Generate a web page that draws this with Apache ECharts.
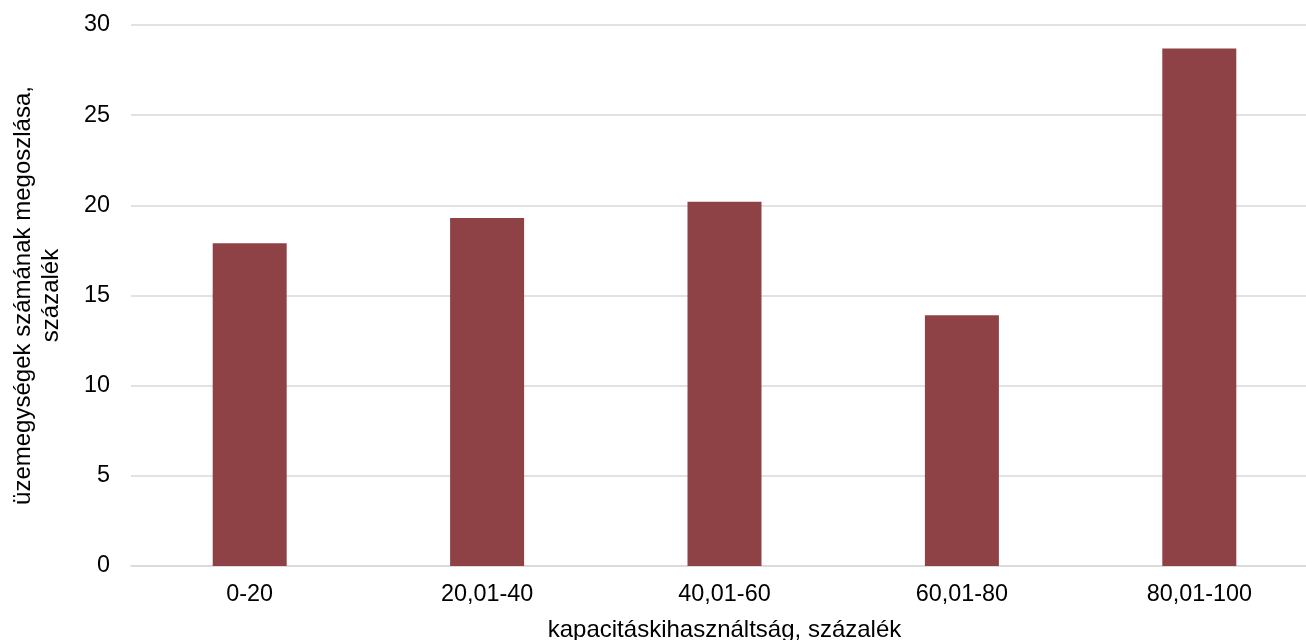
<!DOCTYPE html>
<html>
<head>
<meta charset="utf-8">
<script src="https://cdn.jsdelivr.net/npm/echarts@6/dist/echarts.min.js"></script>
<style>html,body{margin:0;padding:0;background:#fff}#c{width:1306px;height:640px}</style>
</head>
<body>
<div id="c"></div>
<script>
const categories = ['0-20', '20,01-40', '40,01-60', '60,01-80', '80,01-100'];
const values = [17.9, 19.3, 20.2, 13.9, 28.7];
const yTicks = { min: 0, max: 30, interval: 5 };

const chart = echarts.init(document.getElementById('c'), null, { renderer: 'canvas' });
const font = 'Liberation Sans, Arial, sans-serif';
chart.setOption({
  animation: false,
  backgroundColor: '#ffffff',
  grid: { left: 131, top: 25, width: 1187, bottom: 74, containLabel: false, outerBoundsMode: 'none' },
  xAxis: {
    type: 'category',
    data: categories,
    name: 'kapacitáskihasználtság, százalék',
    nameLocation: 'middle',
    nameGap: 52,
    nameTextStyle: { fontFamily: font, fontSize: 24, color: '#000' },
    axisLine: { lineStyle: { color: '#d9d9d9', width: 1.5 } },
    axisTick: { show: false },
    axisLabel: { fontFamily: font, fontSize: 23.4, color: '#000', margin: 17 }
  },
  yAxis: {
    type: 'value',
    min: yTicks.min, max: yTicks.max, interval: yTicks.interval,
    name: 'üzemegységek számának megoszlása,\nszázalék',
    nameLocation: 'middle',
    nameGap: 66,
    nameRotate: 90,
    nameTextStyle: { fontFamily: font, fontSize: 24, color: '#000', lineHeight: 28 },
    axisLine: { show: false },
    axisTick: { show: false },
    axisLabel: { fontFamily: font, fontSize: 23.4, color: '#000', margin: 21 },
    splitLine: { lineStyle: { color: '#d9d9d9', width: 1.5 } }
  },
  series: [{
    type: 'bar',
    data: values,
    barWidth: 74,
    itemStyle: { color: '#8f4246' }
  }]
});
</script>
</body>
</html>
